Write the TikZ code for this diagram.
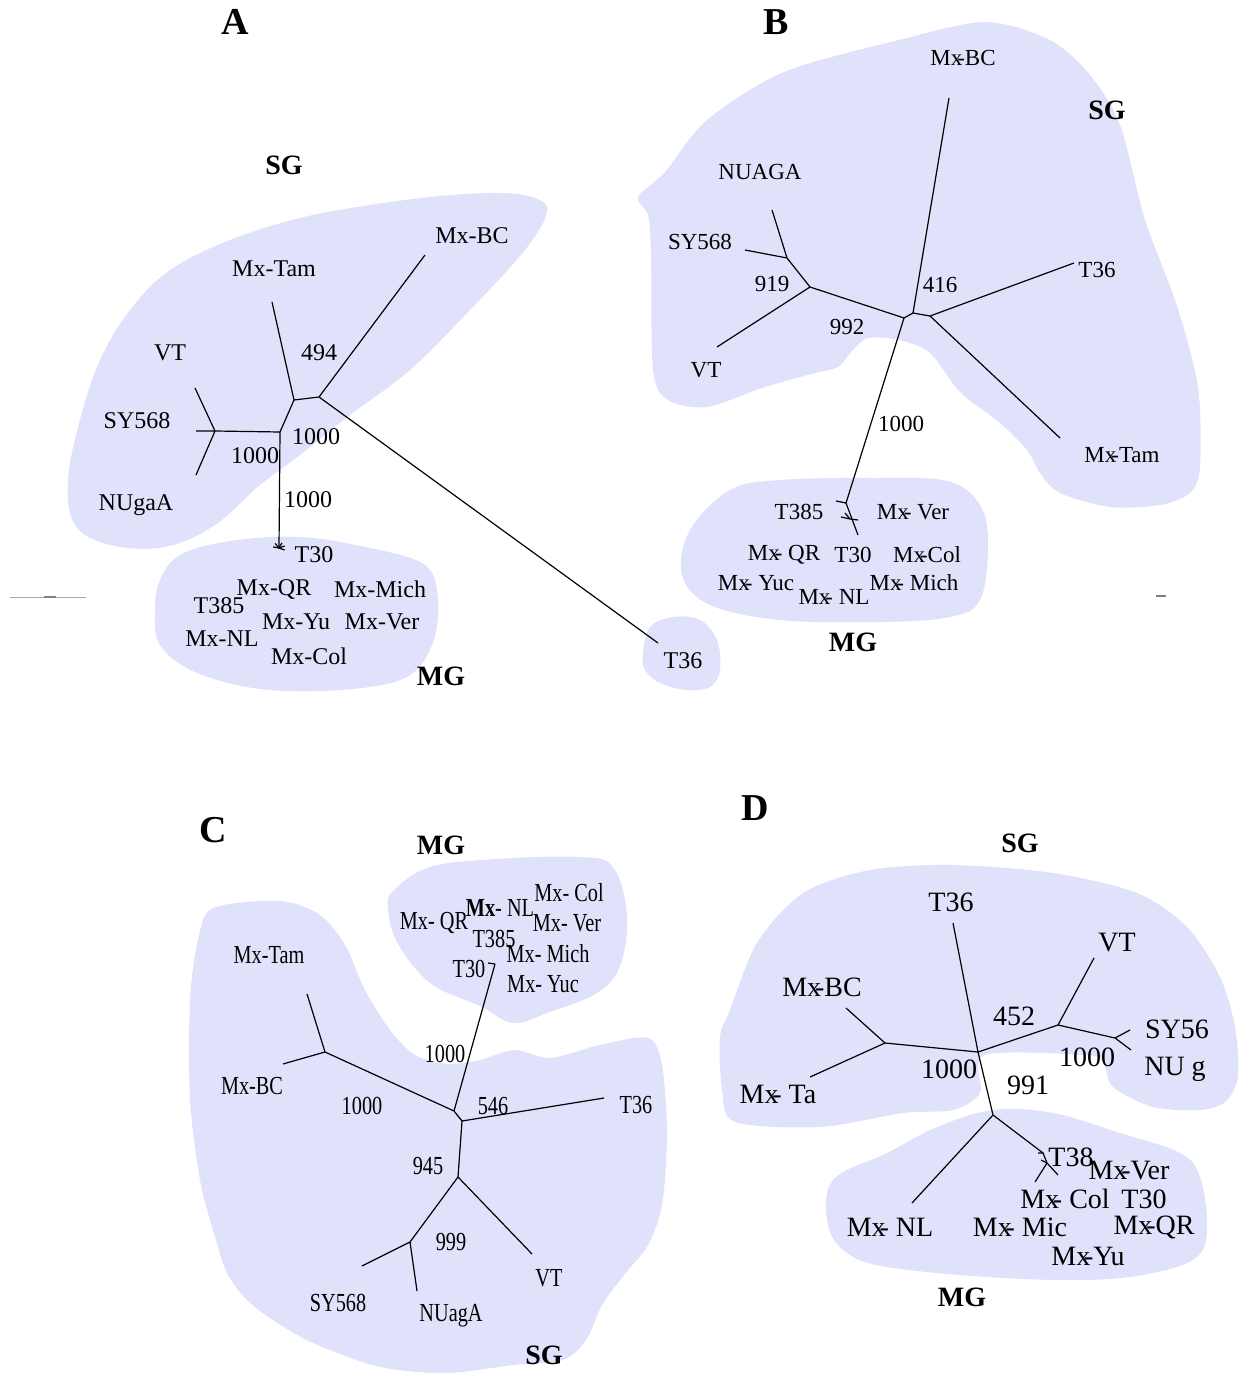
\documentclass[tikz,border=0pt]{standalone}
\usepackage{fontspec}
\setmainfont{Liberation Serif}
\newfontfamily\condfont[FakeStretch=0.78]{Liberation Serif}
\definecolor{sgblue}{RGB}{223,226,250}
\newcommand{\mxk}{Mx\kern-.22em-}
\tikzset{
  blob/.style={fill=sgblue, draw=none},
  branch/.style={line width=0.6pt},
  labA/.style={font=\fontsize{12}{12}\selectfont, inner sep=0pt},
  labB/.style={font=\fontsize{11.5}{12}\selectfont, inner sep=0pt},
  labC/.style={font=\condfont\fontsize{13}{13}\selectfont, inner sep=0pt},
  labD/.style={font=\fontsize{14}{14}\selectfont, inner sep=0pt},
  grp/.style={font=\bfseries\fontsize{14}{14}\selectfont, inner sep=0pt},
  panel/.style={font=\bfseries\fontsize{19}{19}\selectfont, inner sep=0pt}
}
\begin{document}
\begin{tikzpicture}[x=0.5pt, y=-0.5pt]
    \useasboundingbox (0,0) rectangle (1244,1374);

    % Groups
    \fill[blob] plot[smooth cycle, tension=0.6] coordinates {(547,212) (535,198) (500,193) (440,196) (370,205) (300,218) (230,240) (170,270) (130,310) (100,360) (80,420) (68,480) (75,525) (110,545) (165,547) (215,525) (260,485) (300,455) (350,415) (410,370) (470,310) (525,250)};
    \fill[blob] plot[smooth cycle, tension=0.6] coordinates {(160,580) (180,555) (230,541) (300,537) (370,548) (425,565) (438,600) (432,645) (405,678) (340,690) (260,689) (195,672) (160,645) (155,610)};
    \fill[blob] plot[smooth cycle, tension=0.6] coordinates {(643,653) (650,627) (673,617) (700,620) (717,640) (720,670) (710,687) (687,690) (660,683) (645,670)};
    \fill[blob] plot[smooth cycle, tension=0.5] coordinates {(638,197) (665,172) (707,120) (784,72) (899,40) (985,22) (1050,40) (1090,75) (1120,125) (1145,220) (1176,303) (1198,387) (1200,467) (1190,493) (1160,505) (1110,507) (1060,493) (1040,473) (1027,450) (1000,423) (960,392) (930,353) (899,340) (868,338) (853,350) (838,367) (815,373) (765,387) (707,407) (668,400) (653,370) (651,253) (648,215)};
    \fill[blob] plot[smooth cycle, tension=0.6] coordinates {(690,530) (730,490) (780,480) (870,478) (947,481) (980,505) (988,545) (980,600) (950,617) (880,622) (780,620) (710,605) (682,575)};
    \fill[blob] plot[smooth cycle, tension=0.5] coordinates {(213,908) (280,901) (320,915) (345,945) (365,990) (390,1030) (415,1055) (447,1064) (480,1060) (515,1050) (550,1058) (600,1045) (648,1038) (662,1065) (667,1135) (662,1205) (648,1245) (624,1275) (602,1305) (586,1340) (563,1360) (513,1365) (447,1373) (380,1367) (313,1343) (273,1320) (247,1300) (227,1273) (213,1230) (200,1180) (190,1100) (190,1000) (198,940)};
    \fill[blob] plot[smooth cycle, tension=0.6] coordinates {(393,891) (430,867) (497,859) (580,857) (613,867) (627,915) (620,966) (597,993) (547,1013) (513,1023) (480,1006) (430,983) (397,942) (388,908)};
    \fill[blob] plot[smooth cycle, tension=0.5] coordinates {(720,1037) (730,1010) (757,943) (803,893) (870,870) (953,865) (1053,873) (1137,893) (1187,927) (1220,977) (1235,1027) (1238,1077) (1225,1102) (1200,1110) (1153,1107) (1113,1087) (1103,1062) (1085,1055) (985,1055) (980,1093) (953,1110) (903,1113) (820,1127) (735,1122) (722,1090)};
    \fill[blob] plot[smooth cycle, tension=0.6] coordinates {(833,1180) (887,1153) (937,1127) (993,1110) (1053,1113) (1120,1133) (1180,1153) (1200,1177) (1207,1227) (1197,1257) (1153,1273) (1087,1280) (987,1277) (887,1267) (847,1253) (828,1225)};

    % Tree A
    \coordinate (a1) at (319,397);
    \coordinate (a2) at (294,400);
    \coordinate (a3) at (280,432);
    \coordinate (a4) at (215,431);
    \coordinate (aBC) at (425,255);
    \coordinate (aTam) at (272,302);
    \coordinate (aT36) at (658,643);
    \coordinate (aVT) at (195,388);
    \coordinate (aSY) at (196,431);
    \coordinate (aNU) at (196,475);
    \coordinate (aMG) at (279,548);
    \draw[branch] (a1) -- (aBC) (a1) -- (aT36) (a1) -- (a2) (a2) -- (aTam) (a2) -- (a3)
        (a3) -- (a4) (a4) -- (aVT) (a4) -- (aSY) (a4) -- (aNU) (a3) -- (aMG);
    \foreach \ang in {190,230,300,340,20} \draw[branch] (aMG) -- ++(\ang:6);

    % Tree B
    \coordinate (b0) at (904,318);
    \coordinate (b1) at (913,313);
    \coordinate (b2) at (930,316);
    \coordinate (b3) at (810,287);
    \coordinate (b4) at (787,258);
    \coordinate (bBC) at (949,98);
    \coordinate (bT36) at (1074,263);
    \coordinate (bTam) at (1060,438);
    \coordinate (bNU) at (772,210);
    \coordinate (bSY) at (745,250);
    \coordinate (bVT) at (717,347);
    \coordinate (bMG) at (846,503);
    \coordinate (bMG2) at (858,535);
    \draw[branch] (b0) -- (b1) (b1) -- (b2) (b1) -- (bBC) (b2) -- (bT36) (b2) -- (bTam)
        (b0) -- (b3) (b3) -- (b4) (b4) -- (bNU) (b4) -- (bSY) (b3) -- (bVT)
        (b0) -- (bMG) (bMG) -- (bMG2);
    \draw[branch] (bMG) -- ++(-10,-2) (850,519) -- ++(-9,-2) (850,519) -- ++(8,1) (850,519) -- ++(-5,-6);

    % Tree C
    \coordinate (c1) at (454,1111);
    \coordinate (c2) at (462,1121);
    \coordinate (c3) at (458,1177);
    \coordinate (c4) at (410,1242);
    \coordinate (cN) at (325,1052);
    \coordinate (cMG) at (495,964);
    \coordinate (cTam) at (307,994);
    \coordinate (cBC) at (283,1064);
    \coordinate (cT36) at (604,1098);
    \coordinate (cVT) at (532,1254);
    \coordinate (cSY) at (362,1266);
    \coordinate (cNU) at (417,1291);
    \draw[branch] (c1) -- (cMG) (c1) -- (cN) (cN) -- (cTam) (cN) -- (cBC) (c1) -- (c2)
        (c2) -- (cT36) (c2) -- (c3) (c3) -- (cVT) (c3) -- (c4) (c4) -- (cSY) (c4) -- (cNU);
    \draw[branch] (cMG) -- ++(-7,-1);

    % Tree D
    \coordinate (d1) at (978,1052);
    \coordinate (d2) at (1058,1025);
    \coordinate (d3) at (1115,1038);
    \coordinate (d4) at (993,1115);
    \coordinate (dN) at (885,1043);
    \coordinate (dT36) at (953,923);
    \coordinate (dVT) at (1094,958);
    \coordinate (dSY) at (1130,1030);
    \coordinate (dNU) at (1131,1050);
    \coordinate (dBC) at (846,1008);
    \coordinate (dTa) at (810,1077);
    \coordinate (dNL) at (912,1203);
    \coordinate (dMG) at (1043,1153);
    \coordinate (dMG2) at (1047,1163);
    \draw[branch] (d1) -- (dT36) (d1) -- (d2) (d2) -- (dVT) (d2) -- (d3) (d3) -- (dSY) (d3) -- (dNU)
        (d1) -- (dN) (dN) -- (dBC) (dN) -- (dTa) (d1) -- (d4) (d4) -- (dNL) (d4) -- (dMG)
        (dMG) -- (dMG2) (dMG2) -- ++(-12,19) (dMG2) -- ++(11,12);
    \draw[branch] (dMG) -- ++(-5,0) (dMG2) -- ++(-6,-3);

    % Scale bars
    \coordinate (sb1) at (10,597);
    \coordinate (sb2) at (86,597);
    \draw[gray!70, line width=0.4pt] (sb1) -- (sb2);
    \draw[gray, line width=0.6pt] (44,597) -- (56,597) (1156,596) -- (1166,596);

    % Labels A
    \node[panel] (pA) at (235,22) {A};
    \node[grp] (sgA) at (284,165) {SG};
    \node[grp] (mgA) at (441,676) {MG};
    \node[labA] (aBCl) at (472,236) {Mx-BC};
    \node[labA] (aTaml) at (274,269) {Mx-Tam};
    \node[labA] (aVTl) at (170,353) {VT};
    \node[labA] (aSYl) at (137,421) {SY568};
    \node[labA] (aNUl) at (136,505) {NUgaA};
    \node[labA] (aT36l) at (683,661) {T36};
    \node[labA] (a494) at (319,353) {494};
    \node[labA] (aBa) at (316,437) {1000};
    \node[labA] (aBb) at (255,456) {1000};
    \node[labA] (aBc) at (308,500) {1000};
    \node[labA] (aT30) at (314,555) {T30};
    \node[labA] (aQR) at (274,589) {Mx-QR};
    \node[labA] (aMich) at (380,589) {Mx-Mich};
    \node[labA] (aT385) at (219,606) {T385};
    \node[labA] (aYu) at (296,622) {Mx-Yu};
    \node[labA] (aVer) at (382,622) {Mx-Ver};
    \node[labA] (aNL) at (222,639) {Mx-NL};
    \node[labA] (aCol) at (309,656) {Mx-Col};

    % Labels B
    \node[panel] (pB) at (776,22) {B};
    \node[grp] (sgB) at (1107,110) {SG};
    \node[grp] (mgB) at (853,642) {MG};
    \node[labB] (bBCl) at (963,58) {\mxk BC};
    \node[labB] (bNUl) at (760,172) {NUAGA};
    \node[labB] (bSYl) at (700,242) {SY568};
    \node[labB] (b919) at (772,284) {919};
    \node[labB] (b416) at (940,285) {416};
    \node[labB] (bT36l) at (1097,270) {T36};
    \node[labB] (b992) at (847,327) {992};
    \node[labB] (bVTl) at (706,370) {VT};
    \node[labB] (bB1000) at (901,424) {1000};
    \node[labB] (bTaml) at (1122,455) {\mxk Tam};
    \node[labB] (bT385) at (799,512) {T385};
    \node[labB] (bVer) at (913,512) {\mxk\ Ver};
    \node[labB] (bQR) at (784,555) {\mxk\ QR};
    \node[labB] (bT30) at (853,555) {T30};
    \node[labB] (bCol) at (927,555) {\mxk Col};
    \node[labB] (bYuc) at (756,583) {\mxk\ Yuc};
    \node[labB] (bNL) at (834,597) {\mxk\ NL};
    \node[labB] (bMich) at (914,583) {\mxk\ Mich};

    % Labels C
    \node[panel] (pC) at (213,830) {C};
    \node[grp] (mgC) at (441,845) {MG};
    \node[grp] (sgC) at (544,1355) {SG};
    \node[labC] (cTaml) at (269,955) {Mx-Tam};
    \node[labC] (cBCl) at (252,1086) {Mx-BC};
    \node[labC] (cBa) at (362,1106) {1000};
    \node[labC] (cBb) at (445,1054) {1000};
    \node[labC] (c546) at (493,1106) {546};
    \node[labC] (cT36l) at (636,1105) {T36};
    \node[labC] (c945) at (428,1166) {945};
    \node[labC] (c999) at (451,1242) {999};
    \node[labC] (cVTl) at (549,1278) {VT};
    \node[labC] (cSYl) at (338,1303) {SY568};
    \node[labC] (cNUl) at (451,1316) {NUagA};
    \node[labC] (cCol) at (569,893) {Mx- Col};
    \node[labC] (cNL) at (500,908) {\textbf{Mx}- NL};
    \node[labC] (cQR) at (434,923) {Mx- QR};
    \node[labC] (cVer) at (567,923) {Mx- Ver};
    \node[labC] (cT385) at (494,939) {T385};
    \node[labC] (cMich) at (548,954) {Mx- Mich};
    \node[labC] (cT30) at (469,969) {T30};
    \node[labC] (cYuc) at (543,984) {Mx- Yuc};

    % Labels D
    \node[panel] (pD) at (755,808) {D};
    \node[grp] (sgD) at (1020,843) {SG};
    \node[grp] (mgD) at (962,1297) {MG};
    \node[labD] (dT36l) at (951,902) {T36};
    \node[labD] (dVTl) at (1117,943) {VT};
    \node[labD] (dBCl) at (822,987) {\mxk BC};
    \node[labD] (d452) at (1014,1016) {452};
    \node[labD] (dSYl) at (1177,1029) {SY56};
    \node[labD] (dBa) at (949,1069) {1000};
    \node[labD] (dBb) at (1087,1057) {1000};
    \node[labD] (dNUl) at (1175,1069) {NU g};
    \node[labD] (dTal) at (778,1094) {\mxk\ Ta};
    \node[labD] (d991) at (1028,1085) {991};
    \node[labD] (dT38) at (1071,1157) {T38};
    \node[labD] (dVer) at (1129,1171) {\mxk Ver};
    \node[labD] (dCol) at (1065,1199) {\mxk\ Col};
    \node[labD] (dT30) at (1144,1199) {T30};
    \node[labD] (dNL) at (890,1227) {\mxk\ NL};
    \node[labD] (dMic) at (1020,1227) {\mxk\ Mic};
    \node[labD] (dQR) at (1154,1227) {\mxk QR};
    \node[labD] (dYu) at (1088,1256) {\mxk Yu};
\end{tikzpicture}
\end{document}
